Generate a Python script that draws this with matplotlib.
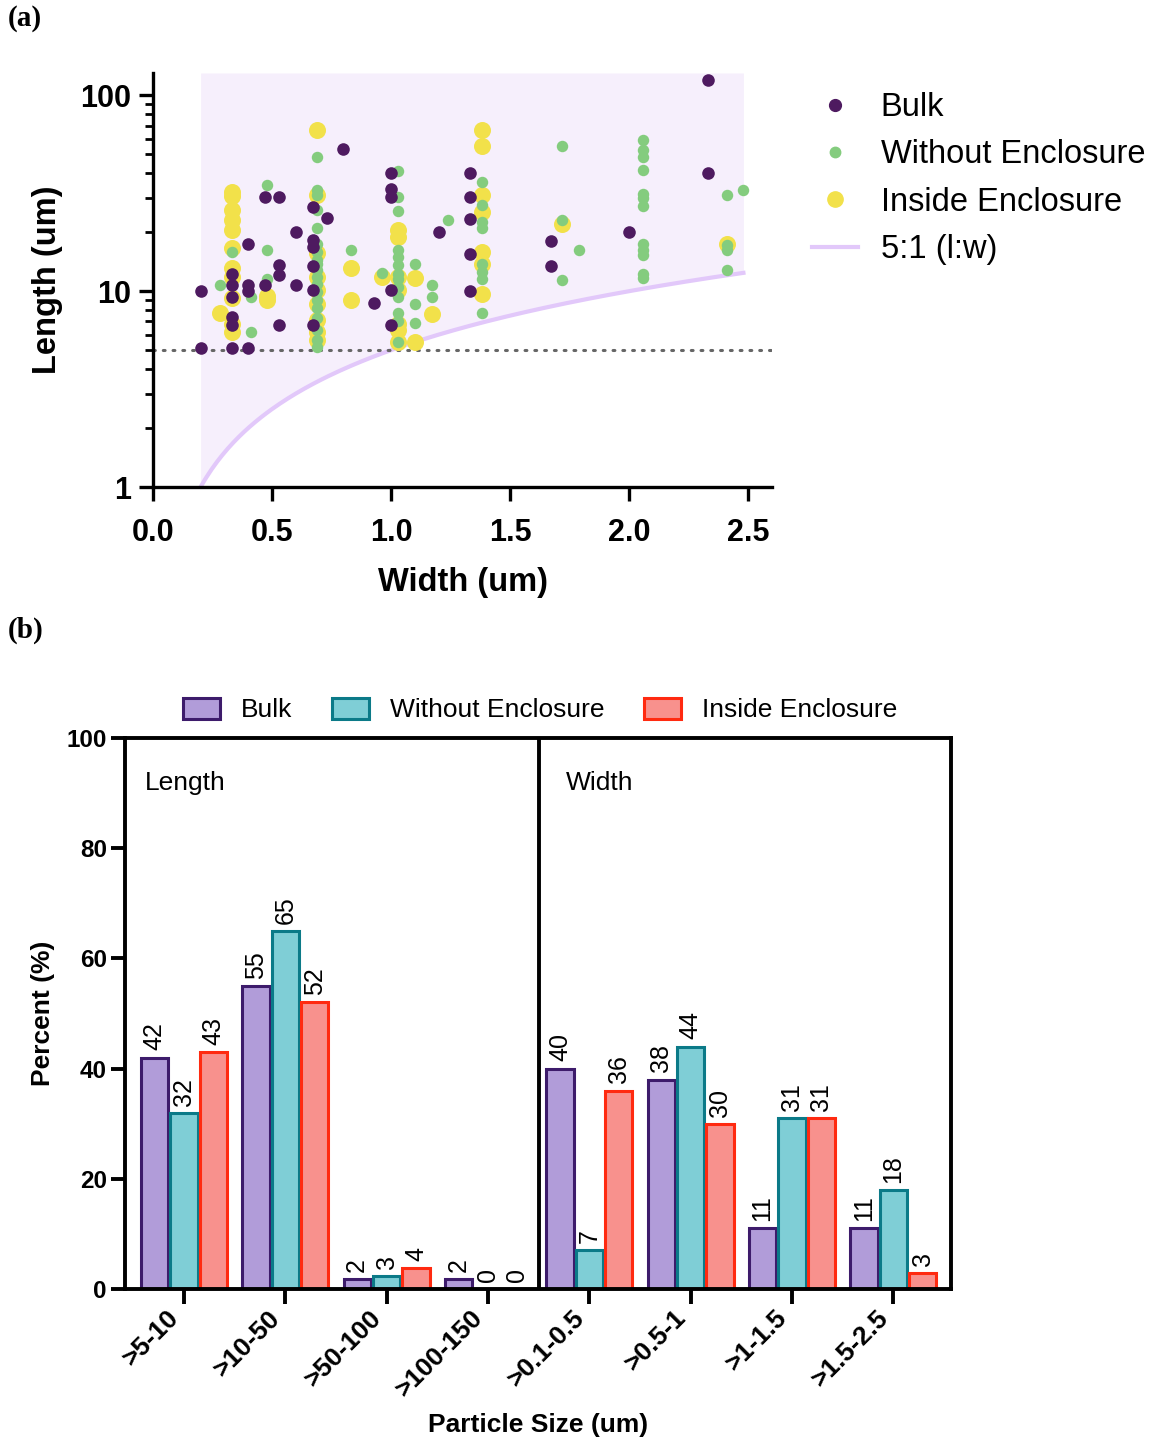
import matplotlib
matplotlib.use('Agg')
import matplotlib.pyplot as plt
import numpy as np
from matplotlib.lines import Line2D
from matplotlib.patches import Patch
from matplotlib.ticker import LogLocator, NullFormatter, FixedLocator, FixedFormatter

plt.rcParams['font.family'] = ['Liberation Sans', 'DejaVu Sans']

# ---- (a) particle width vs length ----
bulk_width = [0.20, 0.20,
              0.33, 0.33, 0.33, 0.33, 0.33, 0.33,
              0.40, 0.40, 0.40, 0.40,
              0.47, 0.47,
              0.53, 0.53, 0.53, 0.53,
              0.60, 0.60,
              0.67, 0.67, 0.67, 0.67, 0.67, 0.67,
              0.73, 0.80, 0.93,
              1.00, 1.00, 1.00, 1.00, 1.00,
              1.20,
              1.33, 1.33, 1.33, 1.33, 1.33,
              1.67, 1.67, 2.00, 2.33, 2.33]
bulk_length = [10, 5.1,
               12.2, 10.7, 9.35, 7.4, 6.7, 5.1,
               17.5, 10.7, 10.0, 5.1,
               30.3, 10.7,
               30.3, 13.6, 12.1, 6.7,
               20.1, 10.7,
               26.9, 18.2, 16.8, 13.4, 10.1, 6.7,
               23.5, 53.5, 8.7,
               40.2, 33.4, 30.3, 10.1, 6.7,
               20.1,
               40.2, 30.1, 23.4, 15.4, 10.0,
               18.1, 13.4, 20.0, 120, 40.2]

without_width = [0.28, 0.33, 0.41, 0.41, 0.48, 0.48, 0.48] + [0.69] * 19 + \
                [0.83, 0.96] + [1.03] * 13 + [1.10] * 3 + [1.17] * 2 + [1.24] + \
                [1.38] * 8 + [1.72] * 3 + [1.79] + [2.06] * 12 + [2.41] * 4 + [2.48]
without_length = [10.7, 15.8, 9.35, 6.2, 34.7, 16.3, 11.5,
                  48.3, 32.7, 31, 25.9, 20.9, 17.5, 15.8, 14.5, 13.8, 12.8,
                  11.8, 10.9, 9.9, 9.0, 8.2, 7.3, 6.3, 5.6, 5.2,
                  16.2, 12.4,
                  41, 30.3, 25.7, 16.2, 15, 13.6, 12.3, 11.6, 10.5, 9.3, 7.7, 7.0, 5.5,
                  13.8, 8.6, 6.9,
                  10.7, 9.3,
                  23,
                  35.9, 27.5, 22.5, 20.9, 13.8, 12.6, 11.6, 7.7,
                  55, 23, 11.4,
                  16.2,
                  59, 52.6, 48.3, 41.5, 31.5, 29.8, 27.1, 17.4, 16.2, 15.3, 12.2, 11.7,
                  30.8, 17.2, 16.2, 12.8,
                  33]

inside_width = [0.28] + [0.33] * 11 + [0.48] * 2 + [0.69] * 9 + [0.83] * 2 + \
               [0.96] + [1.03] * 7 + [1.10] * 2 + [1.17] + [1.38] * 7 + [1.72, 2.41]
inside_length = [7.7,
                 32.1, 30.5, 25.9, 23, 20.5, 16.7, 13.2, 11.8, 9.2, 6.8, 6.2,
                 9.5, 9.0,
                 66.8, 30.8, 15.7, 11.8, 10.1, 8.6, 7.1, 6.2, 5.6,
                 13.1, 9.0,
                 11.8,
                 20.6, 18.8, 11.8, 10.1, 6.8, 6.3, 5.5,
                 11.7, 5.5,
                 7.6,
                 66.3, 55, 30.8, 25.4, 15.8, 13.8, 9.7,
                 22.1, 17.5]

ratio_width = np.linspace(0.2, 2.48, 200)

# ---- (b) size distribution (%) ----
size_bins = ['>5-10', '>10-50', '>50-100', '>100-150',
             '>0.1-0.5', '>0.5-1', '>1-1.5', '>1.5-2.5']
bulk_pct = [42, 55, 1.8, 1.8, 40, 38, 11, 11]
without_pct = [32, 65, 2.4, 0, 7, 44, 31, 18]
inside_pct = [43, 52, 3.8, 0, 36, 30, 31, 2.9]
bulk_lbl = [42, 55, 2, 2, 40, 38, 11, 11]
without_lbl = [32, 65, 3, 0, 7, 44, 31, 18]
inside_lbl = [43, 52, 4, 0, 36, 30, 31, 3]

purple = '#4e1a60'
green = '#84cc7e'
yellow = '#f2e14a'
lavender = '#e2c8fa'

fig = plt.figure(figsize=(11.63, 14.45), dpi=100)

# (a)
ax1 = fig.add_axes([153 / 1163, 1 - 487 / 1445, 619 / 1163, 414 / 1445])
ax1.set_yscale('log')
ax1.set_xlim(0, 2.6)
ax1.set_ylim(1, 130)
ax1.fill_between(ratio_width, 5 * ratio_width, 130, color='#f6effc', lw=0, zorder=0)
ax1.plot(ratio_width, 5 * ratio_width, color=lavender, lw=3, zorder=1)
ax1.axhline(5, color='#666666', lw=2.2, ls=(0, (0.6, 2.6)),
            dash_capstyle='round', zorder=1)
ax1.scatter(inside_width, inside_length, s=150, color=yellow, lw=0, zorder=2)
ax1.scatter(without_width, without_length, s=68, color=green, lw=0, zorder=3)
ax1.scatter(bulk_width, bulk_length, s=82, color=purple, lw=0, zorder=4)

for s in ['top', 'right']:
    ax1.spines[s].set_visible(False)
for s in ['left', 'bottom']:
    ax1.spines[s].set_linewidth(2.4)
ax1.set_xticks([0, 0.5, 1.0, 1.5, 2.0, 2.5])
ax1.set_xticklabels(['0.0', '0.5', '1.0', '1.5', '2.0', '2.5'])
ax1.yaxis.set_major_locator(FixedLocator([1, 10, 100]))
ax1.yaxis.set_major_formatter(FixedFormatter(['1', '10', '100']))
ax1.yaxis.set_minor_locator(LogLocator(base=10, subs=np.arange(2, 10)))
ax1.yaxis.set_minor_formatter(NullFormatter())
ax1.tick_params(axis='x', which='major', length=10, width=2.4,
                labelsize=22, pad=12)
ax1.tick_params(axis='y', which='major', length=10, width=2.4,
                labelsize=22, pad=6)
ax1.tick_params(axis='y', which='minor', length=6, width=2.0)
for lab in ax1.get_xticklabels() + ax1.get_yticklabels():
    lab.set_fontweight('bold')
ax1.set_xlabel('Width (um)', fontsize=23.5, fontweight='bold', labelpad=14)
ax1.set_ylabel('Length (um)', fontsize=23.5, fontweight='bold', labelpad=12)

handles = [Line2D([], [], marker='o', ls='', color=purple, markersize=8.5),
           Line2D([], [], marker='o', ls='', color=green, markersize=7.5),
           Line2D([], [], marker='o', ls='', color=yellow, markersize=11),
           Line2D([], [], color=lavender, lw=3)]
fig.legend(handles, ['Bulk', 'Without Enclosure', 'Inside Enclosure', '5:1 (l:w)'],
           loc='upper left', bbox_to_anchor=(812 / 1163, 1 - 92 / 1445),
           frameon=False, fontsize=23.5, handlelength=1.4, handletextpad=0.7,
           labelspacing=0.5, borderaxespad=0, borderpad=0)

fig.text(8 / 1163, 1 - 18 / 1445, '(a)', fontsize=21, fontweight='bold',
         family='Liberation Serif', va='center', ha='left')
fig.text(8 / 1163, 1 - 630 / 1445, '(b)', fontsize=21, fontweight='bold',
         family='Liberation Serif', va='center', ha='left')

# (b)
ax2 = fig.add_axes([125 / 1163, 1 - 1289 / 1445, 826 / 1163, 551 / 1445])
pos = np.arange(len(size_bins))
bw = 0.27
off = 0.29
series = [
    (bulk_pct, bulk_lbl, '#b19cd9', '#3d1b6b', 'Bulk'),
    (without_pct, without_lbl, '#7fced6', '#0b7a88', 'Without Enclosure'),
    (inside_pct, inside_lbl, '#f8918d', '#ff2a10', 'Inside Enclosure'),
]
for i, (vals, lbls, fc, ec, name) in enumerate(series):
    xs = pos + (i - 1) * off
    ax2.bar(xs, vals, width=bw, color=fc, edgecolor=ec, linewidth=2.2, label=name,
            zorder=2)
    for x, v, t in zip(xs, vals, lbls):
        ax2.text(x, v + 1.3, str(t), rotation=90, ha='center', va='bottom',
                 fontsize=18)

ax2.set_xlim(-0.582, 7.57)
ax2.set_ylim(0, 100)
ax2.axvline(3.5, color='black', lw=2.8, zorder=3)
for s in ax2.spines.values():
    s.set_linewidth(2.8)
ax2.set_yticks([0, 20, 40, 60, 80, 100])
ax2.set_xticks(pos)
ax2.set_xticklabels(size_bins, rotation=45, ha='right', va='top',
                    fontsize=19, fontweight='bold')
ax2.tick_params(axis='x', length=11, width=2.8, pad=1)
ax2.tick_params(axis='y', length=10, width=2.8, labelsize=17.5, pad=3)
for lab in ax2.get_yticklabels():
    lab.set_fontweight('bold')
ax2.set_xlabel('Particle Size (um)', fontsize=19, fontweight='bold', labelpad=8)
ax2.set_ylabel('Percent (%)', fontsize=19, fontweight='bold', labelpad=8)
ax2.text(-0.385, 91.8, 'Length', fontsize=19, va='center', ha='left')
ax2.text(3.77, 91.8, 'Width', fontsize=19, va='center', ha='left')

bar_handles = [Patch(facecolor=fc, edgecolor=ec, linewidth=2.2)
               for _, _, fc, ec, _ in series]
fig.legend(bar_handles, [n for *_, n in series], loc='center',
           bbox_to_anchor=(540 / 1163, 1 - 710 / 1445), ncol=3, frameon=False,
           fontsize=19, handlelength=1.4, handleheight=0.85, handletextpad=0.8,
           columnspacing=1.5, borderaxespad=0, borderpad=0)

fig.savefig('out.png', dpi=100)
